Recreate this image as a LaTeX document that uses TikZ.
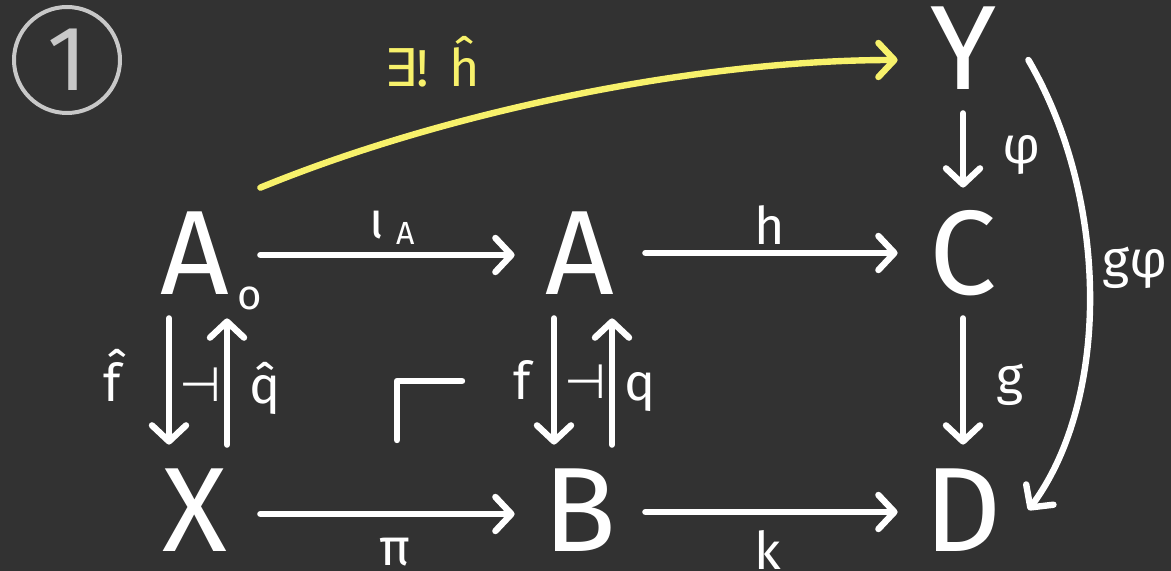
\documentclass[tikz,border=0pt]{standalone}
\usepackage{fontspec}
\setmainfont{Fira Sans}
\newfontfamily\symfont{DejaVu Sans}
\usetikzlibrary{arrows.meta}
\definecolor{bg}{RGB}{50,50,50}
\definecolor{hl}{RGB}{247,241,107}
\definecolor{ring}{RGB}{200,200,200}
\tikzset{
  obj/.style={font=\fontsize{60}{60}\selectfont, text=white, minimum width=65pt, minimum height=65pt, inner sep=0pt},
  lowobj/.style={obj, minimum height=55pt},
  lab/.style={font=\fontsize{26}{26}\selectfont, text=white, inner sep=0pt},
  adj/.style={font=\symfont\fontsize{24}{24}\selectfont, text=white, inner sep=0pt},
  arr/.style={draw=white, line width=3.2pt, line cap=round, line join=round, -{Straight Barb[length=8pt,width=17pt,round]}},
  tolow/.style={shorten >=5pt},
  fromlow/.style={shorten <=5pt},
  corner/.style={draw=white, line width=3.2pt, line cap=round, line join=round},
}
\begin{document}
\begin{tikzpicture}[x=0.5pt,y=-0.5pt]
\useasboundingbox[fill=bg] (0,0) rectangle (1171,571);
% objects
\node[obj] (A0) at (195,253) {A};
\node[lab, font=\fontsize{21}{21}\selectfont] (A0sub) at (250,298) {o};
\node[obj] (A) at (580,253) {A};
\node[obj] (C) at (963,253) {C};
\node[obj] (Y) at (963,48) {Y};
\node[lowobj] (X) at (195,510) {X};
\node[lowobj] (B) at (580,510) {B};
\node[lowobj] (D) at (963,510) {D};
% circled number
\node[draw=ring, line width=2pt, circle, minimum size=53pt, inner sep=0pt, text=ring, font=\fontsize{46}{46}\selectfont] (num) at (67,60) {1};
% arrows
\draw[arr] ([yshift=-1pt]A0.east) -- ([yshift=-1pt]A.west);
\draw[arr] (A.east) -- (C.west);
\draw[arr] ([yshift=-2pt]X.east) -- ([yshift=-2pt]B.west);
\draw[arr] ([yshift=-1pt]B.east) -- ([yshift=-1pt]D.west);
\draw[arr] (Y.south) -- (C.north);
\draw[arr, tolow] (C.south) -- (D.north);
\draw[arr, tolow] ([xshift=-13pt]A0.south) -- ([xshift=-13pt]X.north);
\draw[arr, fromlow] ([xshift=16pt]X.north) -- ([xshift=16pt]A0.south);
\draw[arr, tolow] ([xshift=-13pt]A.south) -- ([xshift=-13pt]B.north);
\draw[arr, fromlow] ([xshift=16pt]B.north) -- ([xshift=16pt]A.south);
\draw[arr, draw=hl] (A0.north east) .. controls (450,110) and (700,60) .. ([yshift=-6pt]Y.west);
\draw[arr] ([yshift=-6pt]Y.east) .. controls (1110,200) and (1110,400) .. (D.east);
% pullback corner
\draw[corner] (397,440) -- (397,381) -- (462,381);
% labels
\node[lab] (liota) at (392,228) {ι\hspace{6pt}\raisebox{-3pt}{\fontsize{16}{16}\selectfont A}};
\node[lab] (lh) at (770,225) {h};
\node[lab] (lphi) at (1022,155) {φ};
\node[lab] (lgphi) at (1135,268) {gφ};
\node[lab] (lg) at (1010,385) {g};
\node[lab] (lfh) at (112,375) {f̂};
\node[adj] (adj1) at (200,385) {⊣};
\node[lab] (lqh) at (265,388) {q̂};
\node[lab] (lf) at (522,380) {f};
\node[adj] (adj2) at (585,382) {⊣};
\node[lab] (lq) at (640,392) {q};
\node[lab] (lpi) at (395,552) {π};
\node[lab] (lk) at (768,550) {k};
\node[lab, text=hl] (lex) at (432,62) {{\symfont ∃}!\hspace{10pt}ĥ};
\end{tikzpicture}
\end{document}
